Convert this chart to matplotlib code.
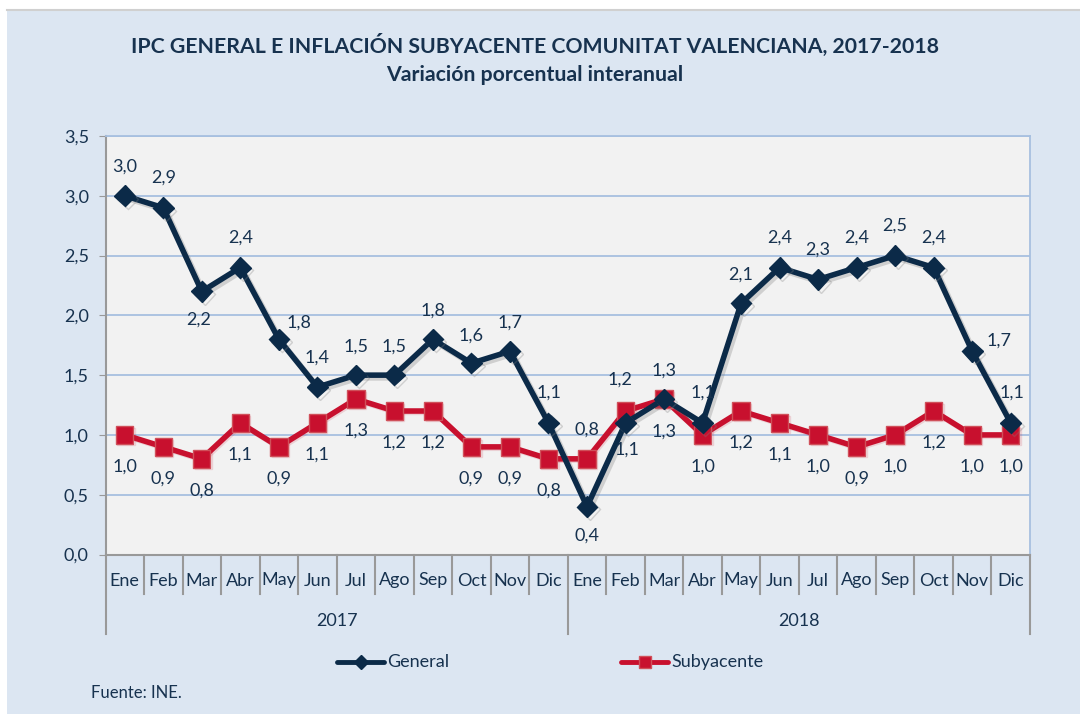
import matplotlib.pyplot as plt
import matplotlib.patheffects as pe
from matplotlib.patches import Rectangle
from matplotlib.lines import Line2D

plt.rcParams['font.family'] = ['Lato', 'DejaVu Sans']

months = ["Ene", "Feb", "Mar", "Abr", "May", "Jun", "Jul", "Ago", "Sep", "Oct", "Nov", "Dic"]
years = ["2017", "2018"]
general = [3.0, 2.9, 2.2, 2.4, 1.8, 1.4, 1.5, 1.5, 1.8, 1.6, 1.7, 1.1,
           0.4, 1.1, 1.3, 1.1, 2.1, 2.4, 2.3, 2.4, 2.5, 2.4, 1.7, 1.1]
subyacente = [1.0, 0.9, 0.8, 1.1, 0.9, 1.1, 1.3, 1.2, 1.2, 0.9, 0.9, 0.8,
              0.8, 1.2, 1.3, 1.0, 1.2, 1.1, 1.0, 0.9, 1.0, 1.2, 1.0, 1.0]

# label placement (offset in pixels from the point)
gen_off = [(0, 29), (0, 30), (-3, -28), (0, 30), (20, 17), (0, 29), (0, 29), (0, 29),
           (0, 29), (0, 28), (0, 29), (0, 30),
           (0, -29), (1, -27), (0, -33), (0, 30), (0, 29), (0, 30), (0, 30), (0, 30),
           (0, 30), (0, 30), (27, 11), (1, 30)]
sub_off = [(0, -32)] * 12 + [(0, 29), (-6, 31), (0, 28)] + [(0, -32)] * 9

NAVY = "#0b2a48"
RED = "#c8102e"
BG = "#dce6f2"
GRID = "#a7c0e0"
TXT = "#17324f"
FS = 13

fig = plt.figure(figsize=(10.8, 7.14), dpi=100)
fig.patch.set_facecolor("white")
W, H = 1080, 714
fig.patches.append(Rectangle((7 / W, 0), 1 - 7 / W, 1 - 10 / H, transform=fig.transFigure,
                             facecolor=BG, edgecolor="none", zorder=-1))
fig.add_artist(Line2D([7 / W, 1], [1 - 10 / H, 1 - 10 / H], color="#d0d0d0", lw=1.5))

x0, x1, y0, y1 = 105.5, 1030, 136, 554.5
ax = fig.add_axes([x0 / W, 1 - y1 / H, (x1 - x0) / W, (y1 - y0) / H])
ax.set_facecolor("#f2f2f2")

n = len(general)
x = list(range(n))
gen_fx = [pe.SimpleLineShadow(offset=(2, -2), shadow_color="#7f7f7f", alpha=0.3), pe.Normal()]
sub_fx = [pe.SimpleLineShadow(offset=(1, -1), shadow_color=RED, alpha=0.15), pe.Normal()]
ax.plot(x, general, color=NAVY, lw=4, marker="D", markersize=10.5, markerfacecolor=NAVY,
        markeredgecolor=NAVY, zorder=4, path_effects=gen_fx)
ax.plot(x, subyacente, color=RED, lw=4, marker="s", markersize=12.5, markerfacecolor=RED,
        markeredgecolor="#d0505a", markeredgewidth=1, zorder=3, path_effects=sub_fx)

for i in range(n):
    ax.annotate(f"{general[i]:.1f}".replace(".", ","), (x[i], general[i]), xytext=gen_off[i],
                textcoords="offset pixels", ha="center", va="center", fontsize=FS, color=TXT, zorder=6)
    ax.annotate(f"{subyacente[i]:.1f}".replace(".", ","), (x[i], subyacente[i]), xytext=sub_off[i],
                textcoords="offset pixels", ha="center", va="center", fontsize=FS, color=TXT, zorder=6)

ax.set_xlim(-0.5, n - 0.5)
ax.set_ylim(0, 3.5)
ax.set_yticks([i * 0.5 for i in range(8)])
ax.set_yticklabels([f"{i * 0.5:.1f}".replace(".", ",") for i in range(8)], fontsize=FS, color=TXT)
ax.yaxis.grid(True, color=GRID, lw=1.3)
ax.set_axisbelow(True)
ax.tick_params(axis="y", length=5, color="#999999", pad=7)
ax.set_xticks([])
for s in ["top", "right"]:
    ax.spines[s].set_color(GRID)
    ax.spines[s].set_linewidth(1.3)
for s in ["left", "bottom"]:
    ax.spines[s].set_color("#999999")
    ax.spines[s].set_linewidth(1.5)

# two-level category axis
tr = ax.get_xaxis_transform()
px = 1 / (y1 - y0)
for i in range(n + 1):
    low = 79 if i % 12 == 0 else 39
    ax.plot([i - 0.5, i - 0.5], [0, -low * px], transform=tr, color="#999999", lw=1.5, clip_on=False)
for i in range(n):
    ax.text(x[i], -26 * px, months[i % 12], transform=tr, ha="center", va="center",
            fontsize=FS, color=TXT)
for k, yr in enumerate(years):
    ax.text(k * 12 + 5.5, -66 * px, yr, transform=tr, ha="center", va="center", fontsize=FS, color=TXT)

fig.text(535 / W, 1 - 45 / H, "IPC GENERAL E INFLACIÓN SUBYACENTE COMUNITAT VALENCIANA, 2017-2018",
         ha="center", va="center", fontsize=15.3, fontweight="bold", color=TXT)
fig.text(535 / W, 1 - 75 / H, "Variación porcentual interanual",
         ha="center", va="center", fontsize=15.3, fontweight="bold", color=TXT)

# legend drawn by hand
ly = 1 - 662 / H
for (lx, label, col, mk, ms, mec) in [(337, "General", NAVY, "D", 7, NAVY),
                                      (621, "Subyacente", RED, "s", 9, "#d0505a")]:
    fig.add_artist(Line2D([lx / W, (lx + 47) / W], [ly, ly], color=col, lw=3.5, solid_capstyle="round"))
    fig.add_artist(Line2D([(lx + 23.5) / W], [ly], marker=mk, markersize=ms, color=col,
                          markeredgecolor=mec, lw=0))
    fig.text((lx + 50) / W, ly, label, ha="left", va="center", fontsize=FS, color=TXT)

fig.text(91 / W, 1 - 693 / H, "Fuente: INE.", ha="left", va="center", fontsize=12, color=TXT)

fig.savefig("out.png", dpi=100, facecolor=fig.get_facecolor())
